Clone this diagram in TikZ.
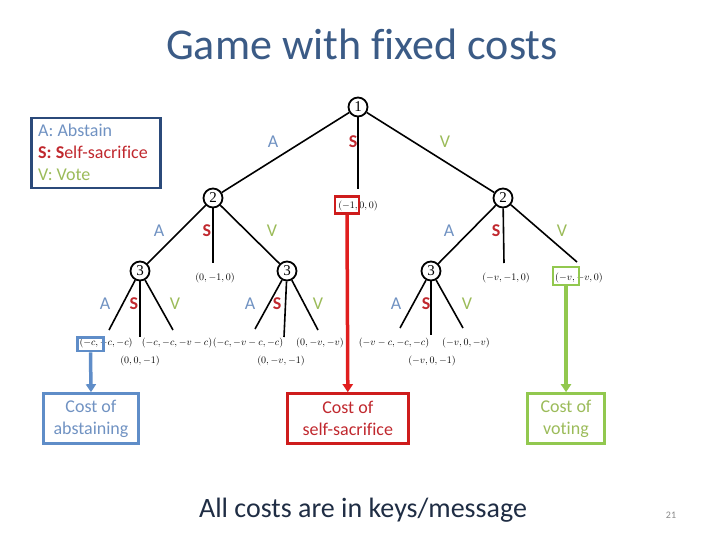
\documentclass[tikz,border=0pt]{standalone}
\usepackage{fontspec}
\setmainfont{Carlito}[Ligatures=CommonOff]
\newfontfamily\serifnum{Liberation Serif}
\usetikzlibrary{arrows.meta}
\definecolor{titleblue}{RGB}{59,91,134}
\definecolor{navy}{RGB}{31,45,68}
\definecolor{legborder}{RGB}{43,74,122}
\definecolor{absline}{RGB}{95,141,200}
\definecolor{abstxt}{RGB}{112,146,194}
\definecolor{sacline}{RGB}{224,30,30}
\definecolor{sacbox}{RGB}{206,28,28}
\definecolor{sactxt}{RGB}{192,40,46}
\definecolor{votline}{RGB}{146,200,79}
\definecolor{vottxt}{RGB}{155,187,89}
\definecolor{pagegray}{RGB}{136,136,136}
\begin{document}
\begin{tikzpicture}[x=1pt,y=-1pt,
  game/.style={circle, draw, line width=1.8pt, minimum size=19pt, inner sep=0pt, font=\serifnum\fontsize{15}{15}\selectfont},
  edge/.style={line width=1.6pt},
  lblA/.style={text=abstxt, inner sep=0pt, font=\fontsize{18}{20}\selectfont},
  lblS/.style={text=sactxt, inner sep=0pt, font=\fontsize{18}{20}\selectfont\bfseries},
  lblV/.style={text=vottxt, inner sep=0pt, font=\fontsize{18}{20}\selectfont},
  pay/.style={inner sep=0pt, font=\fontsize{10}{10}\selectfont},
  hl/.style={draw, line width=2.6pt, inner sep=0pt},
  costbox/.style={draw, line width=3pt, align=center, inner sep=0pt, font=\fontsize{18}{22}\selectfont, minimum height=50pt},
  arr/.style={line width=3.5pt, -{Triangle[width=10pt,length=8pt]}}
]
\useasboundingbox (0,0) rectangle (720,540);

% title and footer
\node[anchor=base, text=titleblue, font=\fontsize{44}{50}\selectfont] (title) at (362,60) {Game with fixed costs};
\node[anchor=base, text=navy, font=\fontsize{28}{32}\selectfont] (foot) at (363,517) {All costs are in keys/message};
\node[anchor=base, text=pagegray, font=\fontsize{10}{12}\selectfont] (page) at (671,518) {21};

% legend
\node[draw=legborder, line width=2.6pt, minimum width=129pt, minimum height=70pt, inner sep=0pt] (legend) at (96,153) {};
\node[anchor=base west, text=abstxt, font=\fontsize{18}{20}\selectfont, inner sep=0pt] (legA) at (38,136.7) {A: Abstain};
\node[anchor=base west, text=sactxt, font=\fontsize{18}{20}\selectfont, inner sep=0pt] (legS) at (38,158.3) {\textbf{S: S}elf-sacrifice};
\node[anchor=base west, text=vottxt, font=\fontsize{18}{20}\selectfont, inner sep=0pt] (legV) at (38,180.7) {V: Vote};

% game nodes
\node[game] (n1) at (358,107) {1};
\node[game] (n2a) at (213,198) {2};
\node[game] (n2b) at (503,198) {2};
\node[game] (n3a) at (140,271) {3};
\node[game] (n3b) at (287,271) {3};
\node[game] (n3c) at (431,271) {3};

% leaf end points
\coordinate (e1S) at (358,189);
\coordinate (e2aS) at (213,263);
\coordinate (e2bS) at (504,263);
\coordinate (e2bV) at (577,262);
\coordinate (e3aA) at (109,330);
\coordinate (e3aS) at (140,337);
\coordinate (e3aV) at (173,330);
\coordinate (e3bA) at (255,329);
\coordinate (e3bS) at (284,337);
\coordinate (e3bV) at (318,330);
\coordinate (e3cA) at (400,328);
\coordinate (e3cS) at (431,335);
\coordinate (e3cV) at (463,328);

% edges
\draw[edge] (n1) -- (n2a);
\draw[edge] (n1) -- (e1S);
\draw[edge] (n1) -- (n2b);
\draw[edge] (n2a) -- (n3a);
\draw[edge] (n2a) -- (e2aS);
\draw[edge] (n2a) -- (n3b);
\draw[edge] (n2b) -- (n3c);
\draw[edge] (n2b) -- (e2bS);
\draw[edge] (n2b) -- (e2bV);
\draw[edge] (n3a) -- (e3aA);
\draw[edge] (n3a) -- (e3aS);
\draw[edge] (n3a) -- (e3aV);
\draw[edge] (n3b) -- (e3bA);
\draw[edge] (n3b) -- (e3bS);
\draw[edge] (n3b) -- (e3bV);
\draw[edge] (n3c) -- (e3cA);
\draw[edge] (n3c) -- (e3cS);
\draw[edge] (n3c) -- (e3cV);

% action labels
\node[lblA] (l1A) at (273,142) {A};
\node[lblS] (l1S) at (353,142) {S};
\node[lblV] (l1V) at (445,142) {V};
\node[lblA] (l2aA) at (159,231) {A};
\node[lblS] (l2aS) at (207,231) {S};
\node[lblV] (l2aV) at (272,231) {V};
\node[lblA] (l2bA) at (449,231) {A};
\node[lblS] (l2bS) at (496,231) {S};
\node[lblV] (l2bV) at (562,231) {V};
\node[lblA] (l3aA) at (105,304) {A};
\node[lblS] (l3aS) at (134,304) {S};
\node[lblV] (l3aV) at (175,304) {V};
\node[lblA] (l3bA) at (250,304) {A};
\node[lblS] (l3bS) at (277,304) {S};
\node[lblV] (l3bV) at (318,304) {V};
\node[lblA] (l3cA) at (396,304) {A};
\node[lblS] (l3cS) at (426,304) {S};
\node[lblV] (l3cV) at (467,304) {V};

% payoffs
\node[pay] (p1S) at (358,206) {$(-1,0,0)$};
\node[pay] (p2aS) at (215,278) {$(0,-1,0)$};
\node[pay] (p2bS) at (506,278) {$(-v,-1,0)$};
\node[pay] (p2bV) at (579,278) {$(-v,-v,0)$};
\node[pay] (p3aA) at (106,343) {$(-c,-c,-c)$};
\node[pay] (p3aS) at (140,361) {$(0,0,-1)$};
\node[pay] (p3aV) at (177,343) {$(-c,-c,-v-c)$};
\node[pay] (p3bA) at (248,343) {$(-c,-v-c,-c)$};
\node[pay] (p3bS) at (281,361) {$(0,-v,-1)$};
\node[pay] (p3bV) at (320,343) {$(0,-v,-v)$};
\node[pay] (p3cA) at (394,343) {$(-v-c,-c,-c)$};
\node[pay] (p3cS) at (432,361) {$(-v,0,-1)$};
\node[pay] (p3cV) at (466,343) {$(-v,0,-v)$};

% highlight boxes
\node[hl, draw=absline, minimum width=26pt, minimum height=13.5pt] (hlA) at (90.5,344.3) {};
\node[hl, draw=sacbox, minimum width=24pt, minimum height=17pt] (hlS) at (347,205.3) {};
\node[hl, draw=votline, minimum width=26pt, minimum height=18pt] (hlV) at (566,276) {};

% cost boxes
\node[costbox, draw=absline, text=abstxt, minimum width=95pt] (cA) at (91,418.7) {Cost of\\abstaining};
\node[costbox, draw=sacbox, text=sactxt, minimum width=121pt] (cS) at (347.8,418.7) {Cost of\\self-sacrifice};
\node[costbox, draw=votline, text=vottxt, minimum width=77pt] (cV) at (566,418.7) {Cost of\\voting};

% arrows
\draw[arr, draw=absline, fill=absline] (hlA.south) -- (cA.north);
\draw[arr, draw=sacline, fill=sacline] (hlS.south) -- (cS.north);
\draw[arr, draw=votline, fill=votline] (hlV.south) -- (cV.north);
\end{tikzpicture}
\end{document}
